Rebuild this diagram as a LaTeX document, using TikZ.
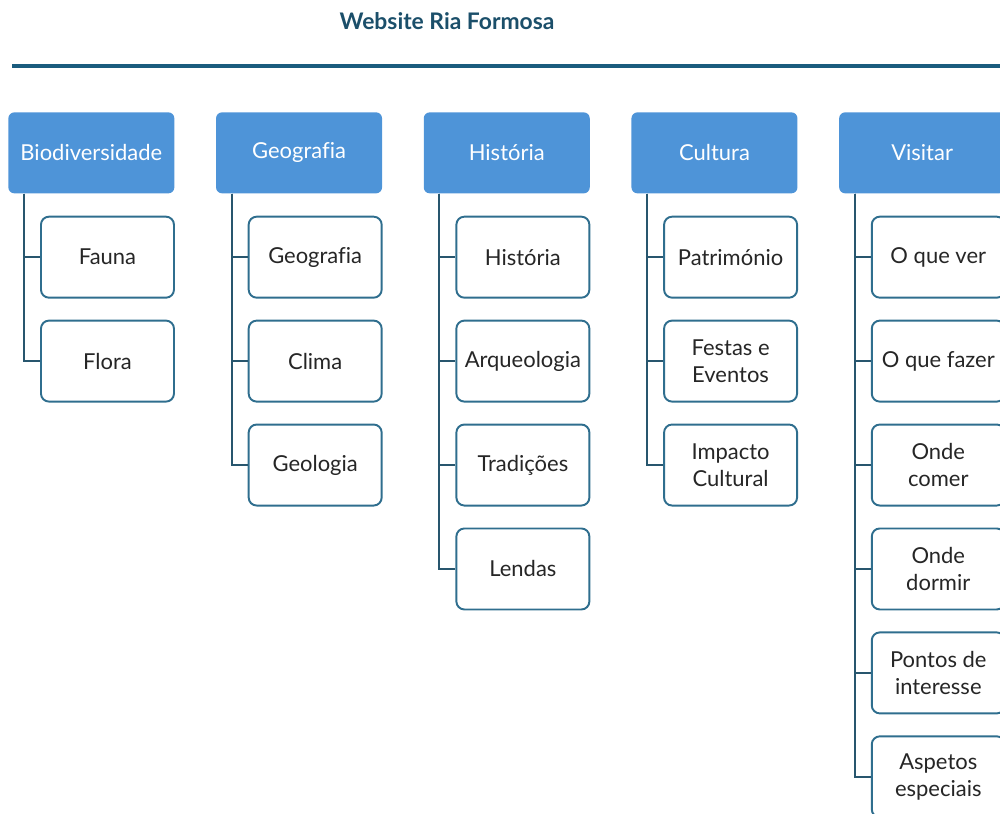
\documentclass[tikz,border=0pt]{standalone}
\usepackage{fontspec}
\setmainfont{Lato}[Ligatures=NoCommon]
\usetikzlibrary{positioning}

\definecolor{headblue}{HTML}{4E94D8}
\definecolor{titleteal}{HTML}{1B4F6A}
\definecolor{ruleteal}{HTML}{1A5C7E}
\definecolor{itemteal}{HTML}{2F6E8E}
\definecolor{linkteal}{HTML}{28566E}

\begin{document}
\begin{tikzpicture}[
        node distance=0.42cm and 0.82cm,
        every node/.style={font=\fontsize{12.5}{15}\selectfont},
        title/.style={font=\fontsize{13}{15}\selectfont\bfseries, text=titleteal},
        head/.style={fill=headblue, text=white, rounded corners=0.12cm, minimum width=3.32cm, minimum height=1.62cm, inner sep=1pt, align=center},
        item/.style={draw=itemteal, line width=1.1pt, fill=white, rounded corners=0.16cm, minimum width=2.66cm, minimum height=1.62cm, inner sep=1pt, align=center, text=black!85},
        link/.style={draw=linkteal, line width=1.1pt},
        rule/.style={draw=ruleteal, line width=2.4pt}
    ]
    \clip (0,0) rectangle (20,-16.28);

    % Title and rule
    \node[title] (title) at (8.94,-0.42) {Website Ria Formosa};
    \coordinate (rulestart) at (0.24,-1.32);
    \coordinate (ruleend) at (20.4,-1.32);
    \draw[rule] (rulestart) -- (ruleend);

    % Headers
    \node[head, anchor=north west] (bio) at (0.16,-2.24) {Biodiversidade};
    \node[head, right=of bio] (geo) {Geografia};
    \node[head, right=of geo] (hist) {História};
    \node[head, right=of hist] (cult) {Cultura};
    \node[head, right=of cult] (visit) {Visitar};

    % Biodiversidade
    \node[item, below right=0.44cm and 0.64cm of bio.south west] (fauna) {Fauna};
    \node[item, below=of fauna] (flora) {Flora};

    % Geografia
    \node[item, below right=0.44cm and 0.64cm of geo.south west] (geogr) {Geografia};
    \node[item, below=of geogr] (clima) {Clima};
    \node[item, below=of clima] (geol) {Geologia};

    % Historia
    \node[item, below right=0.44cm and 0.64cm of hist.south west] (histo) {História};
    \node[item, below=of histo] (arq) {Arqueologia};
    \node[item, below=of arq] (trad) {Tradições};
    \node[item, below=of trad] (lendas) {Lendas};

    % Cultura
    \node[item, below right=0.44cm and 0.64cm of cult.south west] (patr) {Património};
    \node[item, below=of patr] (festas) {Festas e\\Eventos};
    \node[item, below=of festas] (impacto) {Impacto\\Cultural};

    % Visitar
    \node[item, below right=0.44cm and 0.64cm of visit.south west] (ver) {O que ver};
    \node[item, below=of ver] (fazer) {O que fazer};
    \node[item, below=of fazer] (comer) {Onde\\comer};
    \node[item, below=of comer] (dormir) {Onde\\dormir};
    \node[item, below=of dormir] (pontos) {Pontos de\\interesse};
    \node[item, below=of pontos] (aspetos) {Aspetos\\especiais};

    % Lines
    \draw[link] ([xshift=0.32cm]bio.south west) |- (fauna.west);
    \draw[link] ([xshift=0.32cm]bio.south west) |- (flora.west);
    \draw[link] ([xshift=0.32cm]geo.south west) |- (geogr.west);
    \draw[link] ([xshift=0.32cm]geo.south west) |- (clima.west);
    \draw[link] ([xshift=0.32cm]geo.south west) |- (geol.west);
    \draw[link] ([xshift=0.32cm]hist.south west) |- (histo.west);
    \draw[link] ([xshift=0.32cm]hist.south west) |- (arq.west);
    \draw[link] ([xshift=0.32cm]hist.south west) |- (trad.west);
    \draw[link] ([xshift=0.32cm]hist.south west) |- (lendas.west);
    \draw[link] ([xshift=0.32cm]cult.south west) |- (patr.west);
    \draw[link] ([xshift=0.32cm]cult.south west) |- (festas.west);
    \draw[link] ([xshift=0.32cm]cult.south west) |- (impacto.west);
    \draw[link] ([xshift=0.32cm]visit.south west) |- (ver.west);
    \draw[link] ([xshift=0.32cm]visit.south west) |- (fazer.west);
    \draw[link] ([xshift=0.32cm]visit.south west) |- (comer.west);
    \draw[link] ([xshift=0.32cm]visit.south west) |- (dormir.west);
    \draw[link] ([xshift=0.32cm]visit.south west) |- (pontos.west);
    \draw[link] ([xshift=0.32cm]visit.south west) |- (aspetos.west);

\end{tikzpicture}
\end{document}
